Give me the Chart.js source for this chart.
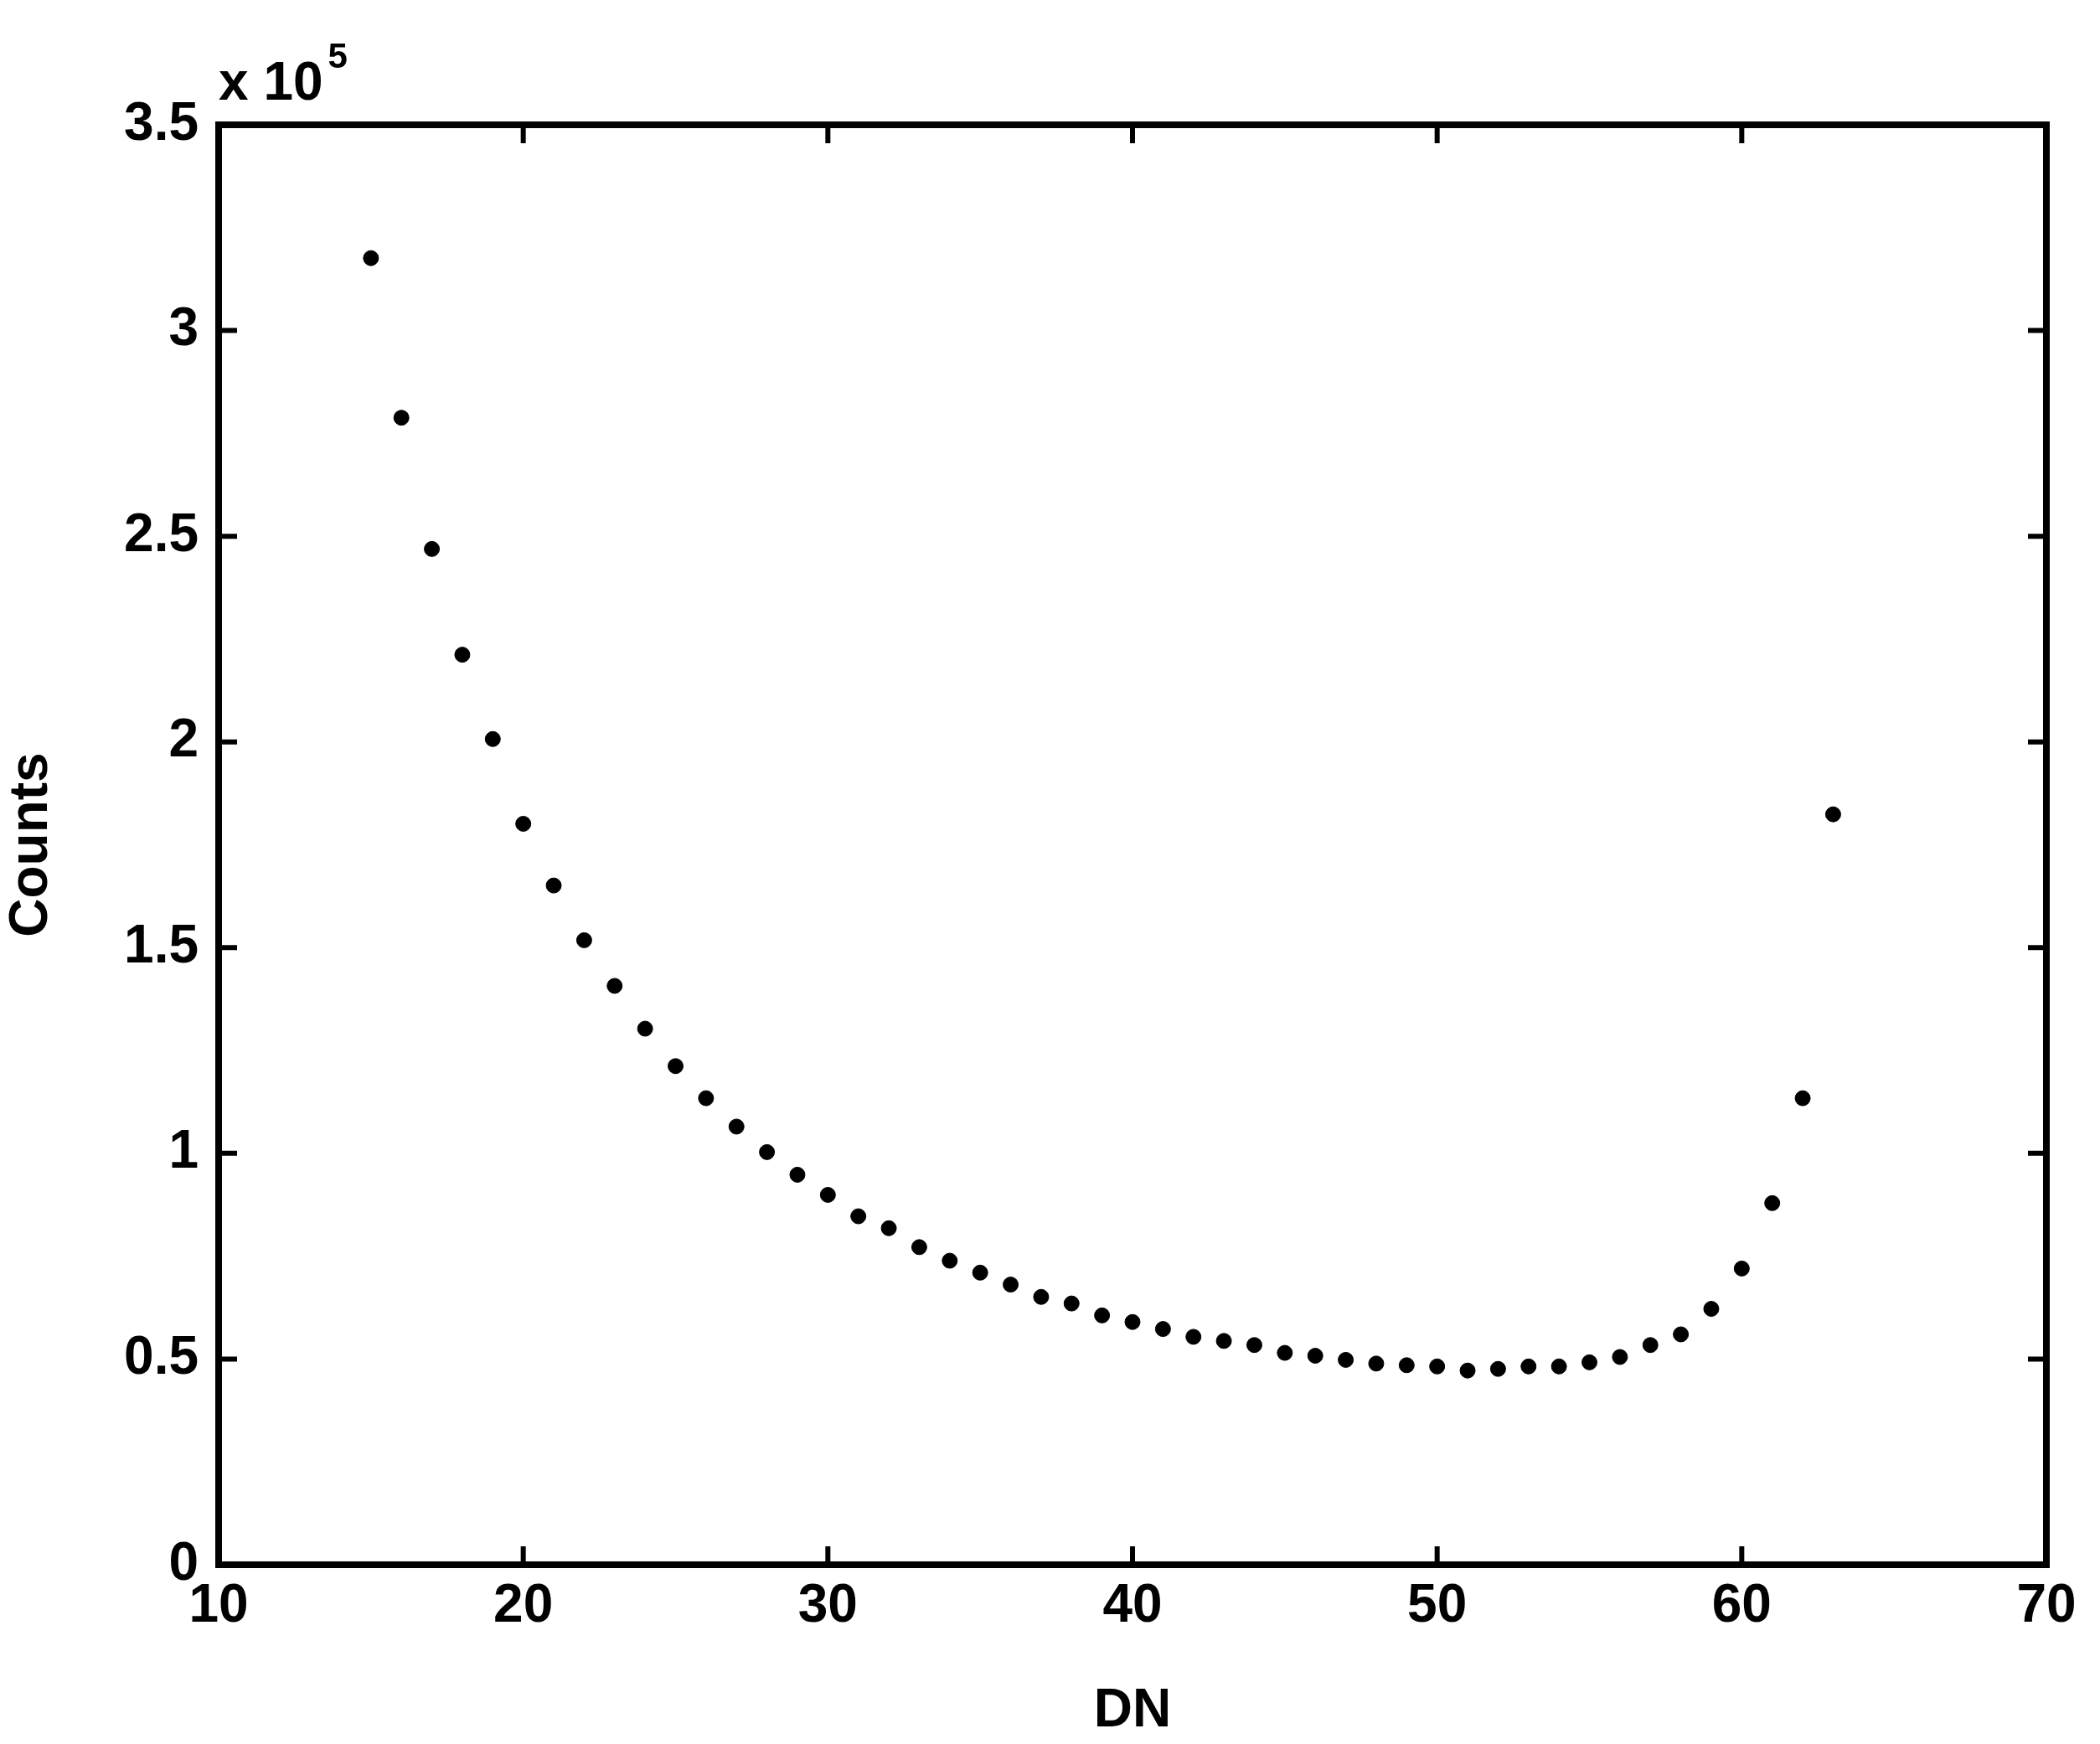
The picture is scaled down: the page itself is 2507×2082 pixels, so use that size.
<!DOCTYPE html>
<html><head><meta charset="utf-8">
<script src="https://cdn.jsdelivr.net/npm/chart.js@4"></script>
<style>html,body{margin:0;padding:0;background:#fff}</style>
</head><body>
<div style="width:2507px;height:2082px"><canvas id="c"></canvas></div>
<script>
const dn = [15,16,17,18,19,20,21,22,23,24,25,26,27,28,29,30,31,32,33,34,35,36,37,38,39,40,41,42,43,44,45,46,47,48,49,50,51,52,53,54,55,56,57,58,59,60,61,62,63];
const counts = [3.176,2.788,2.469,2.212,2.007,1.801,1.651,1.518,1.407,1.303,1.212,1.134,1.065,1.003,0.948,0.899,0.847,0.818,0.772,0.739,0.710,0.681,0.651,0.635,0.606,0.590,0.573,0.554,0.544,0.534,0.515,0.508,0.498,0.489,0.485,0.482,0.472,0.476,0.482,0.482,0.492,0.505,0.534,0.560,0.622,0.720,0.879,1.134,1.824];
const xTicks = [10,20,30,40,50,60,70];
const yTicks = [0,0.5,1,1.5,2,2.5,3,3.5];
const F = 'bold 64px "Liberation Sans", Arial, sans-serif';
const frame = {
  id:'frame',
  afterDraw(ch){
    const c=ch.ctx, a=ch.chartArea, xs=ch.scales.x, ys=ch.scales.y;
    c.save(); c.strokeStyle='#000'; c.lineWidth=8;
    c.strokeRect(a.left,a.top,a.right-a.left,a.bottom-a.top);
    c.lineWidth=6; const L=22;
    xTicks.forEach(v=>{const p=xs.getPixelForValue(v);c.beginPath();c.moveTo(p,a.bottom);c.lineTo(p,a.bottom-L);c.moveTo(p,a.top);c.lineTo(p,a.top+L);c.stroke();});
    yTicks.forEach(v=>{const p=ys.getPixelForValue(v);c.beginPath();c.moveTo(a.left,p);c.lineTo(a.left+L,p);c.moveTo(a.right,p);c.lineTo(a.right-L,p);c.stroke();});
    c.fillStyle='#000'; c.font=F; c.textBaseline='alphabetic';
    c.fillText('x 10',a.left,a.top-30);
    const w=c.measureText('x 10').width;
    c.font='bold 42px "Liberation Sans", Arial, sans-serif';
    c.fillText('5',a.left+w+6,a.top-68);
    c.restore();
  }
};
new Chart(document.getElementById('c'),{
  type:'scatter',
  data:{datasets:[{data:dn.map((d,i)=>({x:d,y:counts[i]})),backgroundColor:'#000',borderColor:'#000',pointRadius:9,pointHoverRadius:9}]},
  options:{responsive:true,maintainAspectRatio:false,animation:false,
    layout:{padding:{top:149,right:64,left:0,bottom:0}},
    plugins:{legend:{display:false},tooltip:{enabled:false}},
    scales:{
      x:{type:'linear',min:10,max:70,afterBuildTicks:s=>{s.ticks=xTicks.map(v=>({value:v}))},
        afterFit:s=>{s.height=214},
        grid:{display:false},border:{display:false},
        ticks:{color:'#000',font:{family:'"Liberation Sans", Arial',weight:'bold',size:64},padding:4,maxRotation:0},
        title:{display:true,text:'DN',color:'#000',font:{family:'"Liberation Sans", Arial',weight:'bold',size:64},padding:0}},
      y:{type:'linear',min:0,max:3.5,afterBuildTicks:s=>{s.ticks=yTicks.map(v=>({value:v}))},
        afterFit:s=>{s.width=261},
        grid:{display:false},border:{display:false},
        ticks:{color:'#000',font:{family:'"Liberation Sans", Arial',weight:'bold',size:64},padding:16,callback:v=>String(v)},
        title:{display:true,text:'Counts',color:'#000',font:{family:'"Liberation Sans", Arial',weight:'bold',size:64},padding:0}}
    }},
  plugins:[frame]
});
</script>
</body></html>
